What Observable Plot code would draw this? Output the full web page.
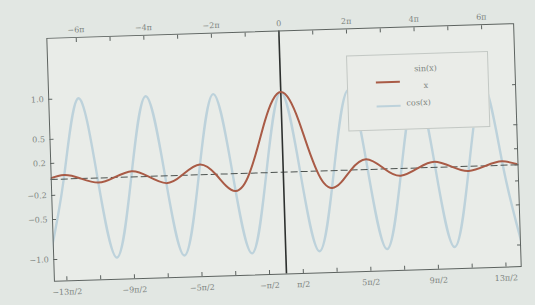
<!DOCTYPE html>
<html><head><meta charset="utf-8">
<script src="https://cdn.jsdelivr.net/npm/d3@7"></script>
<script src="https://cdn.jsdelivr.net/npm/@observablehq/plot@0.6"></script>
<style>
html,body{margin:0;padding:0;background:#e2e7e3;overflow:hidden;}
#wrap{position:relative;width:535px;height:305px;transform:rotate(-1.8deg);transform-origin:267px 152px;}
#wrap svg{display:block;}
#legend{position:absolute;left:349px;top:58px;width:140px;height:74px;border:1px solid #c3c8c4;background:#eaece8;font-family:"DejaVu Serif",serif;font-size:8px;color:#7d8480;}
.sw{position:absolute;height:2px;}
.lt{position:absolute;white-space:nowrap;}
</style></head><body>
<div id="wrap"></div>
<script>
// x values are in units of π
const cosX = [-7,-6.5,-6,-5.5,-5,-4.5,-4,-3.5,-3,-2.5,-2,-1.5,-1,-0.5,0,0.5,1,1.5,2,2.5,3,3.5,4,4.5,5,5.5,6,6.5,7];
const cosY = [-1,0,1,0,-1,0,1,0,-1,0,1,0,-1,0,1,0,-1,0,1,0,-1,0,1,0,-1,0,1,0,-1];
const sincX = [-7,-6.48,-6,-5.48,-5,-4.48,-4,-3.47,-3,-2.46,-2,-1.7,-1.43,-1.2,-1,-0.75,-0.5,-0.25,0,0.25,0.5,0.75,1,1.2,1.43,1.7,2,2.46,3,3.47,4,4.48,5,5.48,6,6.48,7];
const sincY = [0,0.049,0,-0.058,0,0.071,0,-0.091,0,0.128,0,-0.151,-0.217,-0.156,0,0.30,0.64,0.90,1,0.90,0.64,0.30,0,-0.156,-0.217,-0.151,0,0.128,0,-0.091,0,0.071,0,-0.058,0,0.049,0];
const topTicks = [-6,-4,-2,0,2,4,6];
const topLabels = ["−6π","−4π","−2π","0","2π","4π","6π"];
const topMinor = [-6,-5,-4,-3,-2,-1,0,1,2,3,4,5,6];
const bottomTicks = [-6.5,-4.5,-2.5,-0.5,0.5,2.5,4.5,6.5];
const bottomLabels = ["−13π/2","−9π/2","−5π/2","−π/2","π/2","5π/2","9π/2","13π/2"];
const bottomMinor = [-6.5,-5.5,-4.5,-3.5,-2.5,-1.5,-0.5,0.5,1.5,2.5,3.5,4.5,5.5,6.5];
const yTicks = [1.0,0.5,0.2,-0.2,-0.5,-1.0];
const yLabels = ["1.0","0.5","0.2","−0.2","−0.5","−1.0"];
const yMinor = [1.0,0.5,0.2,0,-0.2,-0.5,-1.0];
const seriesNames = ["sin(x)", "x", "cos(x)"];

const cosData = cosX.map((x,i)=>({x, y: cosY[i]}));
const sincData = sincX.map((x,i)=>({x, y: sincY[i]}));
const topMap = new Map(topTicks.map((t,i)=>[t, topLabels[i]]));
const botMap = new Map(bottomTicks.map((t,i)=>[t, bottomLabels[i]]));
const yMap = new Map(yTicks.map((t,i)=>[t, yLabels[i]]));

const ink = "#5d6360";
const txt = "#7d8480";
const red = "#a95b46";
const blue = "#bdd2db";
const chart = Plot.plot({
  width: 535, height: 305,
  marginLeft: 50, marginRight: 18, marginTop: 31, marginBottom: 31,
  x: {domain: [-6.87, 6.95]},
  y: {domain: [-1.27, 1.76]},
  style: {background: "transparent", fontFamily: "DejaVu Serif", fontSize: "8px", color: txt},
  marks: [
    Plot.frame({fill: "#e9ece8"}),
    Plot.line(cosData, {x: "x", y: "y", curve: "natural", stroke: blue, strokeWidth: 2.4, clip: true}),
    Plot.ruleY([0], {stroke: "#4d5350", strokeWidth: 1, strokeDasharray: "7,3"}),
    Plot.ruleX([0], {stroke: "#2d302e", strokeWidth: 1.6}),
    Plot.line(sincData, {x: "x", y: "y", curve: "natural", stroke: red, strokeWidth: 2, clip: true}),
    Plot.frame({stroke: ink, strokeWidth: 1}),
    Plot.axisX(topMinor, {anchor: "top", tickSize: -4, tickFormat: () => "", label: null, stroke: ink}),
    Plot.axisX(topTicks, {anchor: "top", tickSize: 0, tickPadding: 5, tickFormat: d => topMap.get(d), label: null, fill: txt}),
    Plot.axisX(bottomMinor, {anchor: "bottom", tickSize: -4, tickFormat: () => "", label: null, stroke: ink}),
    Plot.axisX(bottomTicks, {anchor: "bottom", tickSize: 0, tickPadding: 8, tickFormat: d => botMap.get(d), label: null, fill: txt}),
    Plot.axisY(yMinor, {anchor: "left", tickSize: -4, tickFormat: () => "", label: null, stroke: ink}),
    Plot.axisY(yTicks, {anchor: "left", tickSize: 0, tickPadding: 5, tickFormat: d => yMap.get(d), label: null, fill: txt}),
    Plot.axisY(yMinor, {anchor: "right", tickSize: -4, tickFormat: () => "", label: null, stroke: ink})
  ]
});
const wrap = document.getElementById("wrap");
wrap.appendChild(chart);

const lg = document.createElement("div");
lg.id = "legend";
lg.innerHTML = `
  <div class="sw" style="left:28px;top:26px;width:24px;background:${red};"></div>
  <div class="lt" style="left:58px;top:10px;width:40px;text-align:center;">${seriesNames[0]}</div>
  <div class="lt" style="left:58px;top:27px;width:40px;text-align:center;">${seriesNames[1]}</div>
  <div class="sw" style="left:28px;top:50px;width:24px;background:${blue};"></div>
  <div class="lt" style="left:58px;top:44px;">${seriesNames[2]}</div>`;
wrap.appendChild(lg);
</script>
</body></html>
